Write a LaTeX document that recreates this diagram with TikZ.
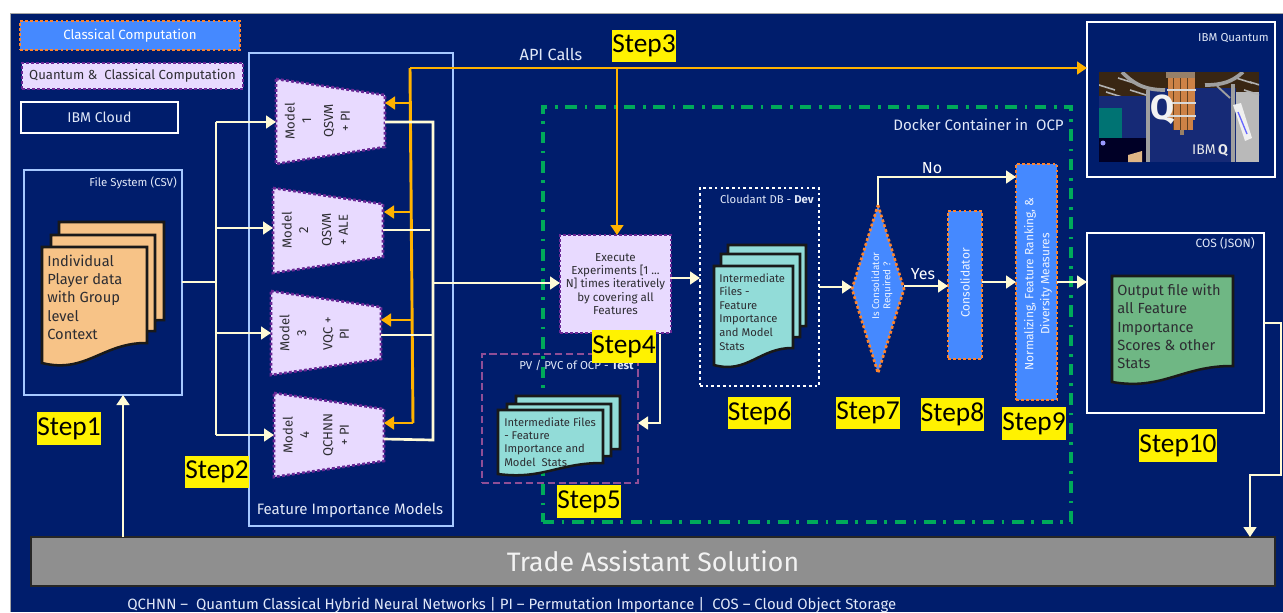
\documentclass[tikz,border=0pt]{standalone}
\usepackage{fontspec}
\setmainfont{Fira Sans}
\newfontfamily\stepfont{Carlito}
\usetikzlibrary{arrows.meta}
\definecolor{navy}{RGB}{0,29,108}
\definecolor{cream}{RGB}{255,251,214}
\definecolor{gold}{RGB}{255,178,0}
\definecolor{lblue}{RGB}{166,200,255}
\definecolor{cblue}{RGB}{69,137,255}
\definecolor{lilac}{RGB}{232,218,255}
\definecolor{dpurple}{RGB}{106,40,150}
\definecolor{dorange}{RGB}{255,131,43}
\definecolor{peach}{RGB}{247,195,135}
\definecolor{teal2}{RGB}{146,220,216}
\definecolor{green2}{RGB}{111,183,132}
\definecolor{dgreen}{RGB}{0,170,90}
\definecolor{mauve}{RGB}{143,78,150}
\definecolor{ink}{RGB}{45,45,50}
\definecolor{paleT}{RGB}{225,232,248}
\definecolor{curtain}{RGB}{22,42,118}
\definecolor{bronze}{RGB}{205,130,70}
\tikzset{
  x=0.75pt,y=-0.75pt,
  flow/.style={draw=cream,line width=2pt,-{Triangle[length=7.5pt,width=9.5pt]}},
  flowplain/.style={draw=cream,line width=2pt},
  api/.style={draw=gold,line width=2.2pt,-{Triangle[length=7.5pt,width=9.5pt]}},
  apiplain/.style={draw=gold,line width=2.2pt},
  boxbase/.style={inner sep=0pt,outer sep=0pt,align=center},
  classical/.style={boxbase,fill=cblue,draw=dorange,line width=2pt,dash pattern=on 2.1pt off 1.7pt,text=white},
  quantum/.style={boxbase,fill=lilac,draw=dpurple,line width=2pt,dash pattern=on 2.1pt off 1.7pt,text=ink},
  cloudbox/.style={boxbase,draw=white,line width=2pt},
  regionbox/.style={boxbase,draw=lblue,line width=2pt},
  greenbox/.style={boxbase,draw=dgreen,line width=2.5pt,dash pattern=on 8.5pt off 5.5pt on 2pt off 6pt},
  whitedot/.style={boxbase,draw=white,line width=2pt,dash pattern=on 2pt off 2.3pt},
  mauvedash/.style={boxbase,draw=mauve,line width=2pt,dash pattern=on 5.5pt off 2.7pt},
  doc/.style={draw=black!90,line width=1.9pt,line join=miter},
  lab/.style={text=paleT,inner sep=0pt},
  modeltext/.style={text=ink,font=\fontsize{9.8}{12.5}\selectfont,rotate=90,align=center,inner sep=0pt},
  trap/.style={fill=lilac,draw=dpurple,line width=2pt,dash pattern=on 2.1pt off 1.7pt},
  stepbox/.style={fill=yellow,text=black,inner sep=0pt,font=\stepfont\fontsize{20.5}{24}\selectfont},
  doctext/.style={text=ink,align=left,anchor=north west,inner sep=0pt},
}
% name, style, x1,y1,x2,y2, content
\newcommand{\rbox}[7]{\node[#2,minimum width={(#5-#3)*0.75pt},minimum height={(#6-#4)*0.75pt}] (#1) at ({(#3+#5)/2},{(#4+#6)/2}) {#7};}
% one sheet: x1 y1 x2 y2(right end) yl(left end) fill
\newcommand{\sheet}[6]{\filldraw[doc,fill=#6] (#1,#2) -- (#3,#2) -- (#3,#4)
  .. controls ({#3-0.42*(#3-#1)},{#4-0.03*(#5-#4)}) and ({#1+0.42*(#3-#1)},{#5+0.55*(#5-#4)}) .. (#1,#5) -- cycle;}
\newcommand{\stepnode}[6]{\node[stepbox,minimum width={(#4-#2)*0.75pt},minimum height={(#5-#3)*0.75pt}] (#1) at ({(#2+#4)/2},{(#3+#5)/2}) {#6};}
\begin{document}
\begin{tikzpicture}
\useasboundingbox (0,0) rectangle (1283,612);
\fill[white] (0,0) rectangle (1283,612);
\fill[navy] (10,13) rectangle (1283,612);
\draw[black!35,line width=0.6pt] (10,612) -- (10,13) -- (1283,13);

% legend
\rbox{legA}{classical,font=\fontsize{10}{12}\selectfont}{20}{21}{240}{50}{Classical Computation}
\rbox{legB}{quantum,font=\fontsize{9.85}{12}\selectfont}{22}{63}{243}{89}{Quantum \& \ Classical Computation}
\rbox{legC}{cloudbox,text=paleT,font=\fontsize{10.6}{12}\selectfont}{21}{102}{178}{133}{IBM Cloud}

% regions
\rbox{fs}{regionbox}{24}{170}{182}{395}{}
\node[lab,anchor=east,font=\fontsize{8.6}{10}\selectfont] (fslab) at (177,183) {File System (CSV)};
\rbox{fim}{regionbox}{249}{53}{453}{526}{}
\node[lab,font=\fontsize{11.3}{13}\selectfont] (fimlab) at (350,510) {Feature Importance Models};

\rbox{docker}{greenbox}{543}{107}{1071}{522}{}
\node[lab,anchor=east,font=\fontsize{11.3}{13}\selectfont] (dockerlab) at (1064,125) {Docker Container in \ OCP};

\rbox{ibmq}{cloudbox}{1087}{22}{1275}{177}{}
\node[lab,anchor=east,font=\fontsize{8.6}{10}\selectfont] (ibmqlab) at (1269,38) {IBM Quantum};
\rbox{cos}{cloudbox}{1087}{233}{1264}{413}{}
\node[lab,anchor=east,font=\fontsize{9}{11}\selectfont] (coslab) at (1255,243) {COS (JSON)};

% photo
\begin{scope}
\clip (1099,72) rectangle (1259,162);
\fill[black!70!brown] (1099,72) rectangle (1259,100);
\fill[gray!55!white] (1232,72) rectangle (1259,162);
\fill[black!70!brown] (1232,72) rectangle (1259,92);
\foreach \a/\b in {1099/85,1106/92,1118/78,1130/90,1236/78,1244/90,1250/82}{\draw[gray!60!white,line width=1.2pt] (\a,\b) -- ++(16,5);}
\fill[curtain] (1099,96) rectangle (1150,162);
\fill[curtain] (1147,88) rectangle (1236,162);
\fill[black!85!blue] (1099,138) rectangle (1147,162);
\fill[teal!50!cyan!60!black] (1099,108) rectangle (1122,138);
\fill[white!60!blue] (1103,143) circle (2.5);
\fill[peach!80!gray] (1128,155) -- (1142,151) -- (1142,162) -- (1128,162) -- cycle;
\draw[gray!75!white,line width=2.8pt] (1122,72) .. controls (1132,82) and (1142,90) .. (1165,90);
\draw[gray!75!white,line width=2.8pt] (1148,90) -- (1148,162);
\draw[gray!75!white,line width=2.8pt] (1243,72) .. controls (1232,82) and (1222,85) .. (1205,85);
\draw[gray!75!white,line width=2.8pt] (1233,84) -- (1233,162);
\draw[gray!75!white,line width=1.4pt] (1217,86) -- (1230,98);
\fill[gray!65!brown] (1166,72) rectangle (1195,78);
\fill[bronze] (1168,78) rectangle (1195,120);
\fill[bronze] (1173,120) rectangle (1193,130);
\foreach \a in {1173,1180,1187}{\draw[brown!50!black,line width=0.7pt] (\a,78) -- (\a,130);}
\foreach \b in {90,103,116}{\draw[gray!30!white,line width=1pt] (1167,\b) -- (1196,\b);}
\fill[gray!60!brown] (1180,130) rectangle (1184,135);
\fill[black!6!white] (1233,105) -- (1241,103) -- (1252,138) -- (1245,141) -- cycle;
\draw[blue!60,line width=1pt] (1238,112) -- (1247,134);
\node[text=white!90!gray,inner sep=0pt,font=\bfseries\fontsize{26}{28}\selectfont] (photoQ) at (1162,110) {Q};
\node[text=white!85!gray,inner sep=0pt,font=\fontsize{10.5}{12}\selectfont] (photoIBM) at (1210,151) {IBM\,\textbf{Q}};
\end{scope}

% gold trunk under models
\coordinate (gTop) at (410,68);
\coordinate (gBot) at (413,423);
\draw[apiplain] (gTop) -- (gBot);

% models
\filldraw[trap] (276,79) coordinate (m1a) -- (385,95) -- (385,147) -- (276,164) -- cycle;
\filldraw[trap] (273,188) coordinate (m2a) -- (383,204) -- (383,257) -- (273,273) -- cycle;
\filldraw[trap] (271,291) coordinate (m3a) -- (381,307) -- (381,359) -- (271,375) -- cycle;
\filldraw[trap] (274,393) coordinate (m4a) -- (384,409) -- (384,461) -- (274,477) -- cycle;
\node[modeltext] (m1t) at (298,121) {Model\\1};
\node[modeltext] (m1u) at (337,121) {QSVM\\+ PI};
\node[modeltext] (m2t) at (295,230) {Model\\2};
\node[modeltext] (m2u) at (335,230) {QSVM\\+ ALE};
\node[modeltext] (m3t) at (293,333) {Model\\3};
\node[modeltext] (m3u) at (336,334) {VQC +\\PI};
\node[modeltext] (m4t) at (296,435) {Model\\4};
\node[modeltext] (m4u) at (336,435) {QCHNN\\+ PI};

% model ports
\coordinate (m1in) at (276,122); \coordinate (m1out) at (385,122); \coordinate (m1api) at (385,103);
\coordinate (m2in) at (273,228); \coordinate (m2out) at (383,230); \coordinate (m2api) at (384,212);
\coordinate (m3in) at (271,333); \coordinate (m3out) at (381,335); \coordinate (m3api) at (381,320);
\coordinate (m4in) at (274,435); \coordinate (m4out) at (384,439); \coordinate (m4api) at (384,423);

% stacks
\sheet{59}{222}{164}{320}{345}{peach}
\sheet{51}{235}{155}{331}{355}{peach}
\sheet{42}{247}{147}{343}{363}{peach}
\node[doctext,font=\fontsize{11}{13.6}\selectfont] (fsdoc) at (47,255) {Individual\\Player data\\with Group\\level\\Context};

% execute
\rbox{exec}{quantum,font=\fontsize{8.7}{9.95}\selectfont}{560}{235}{671}{333}{Execute\\Experiments [1 ...\\N] times iteratively\\by covering all\\Features}

% PV box
\rbox{pv}{mauvedash}{482}{354}{638}{483}{}
\node[lab,anchor=east,font=\fontsize{8.6}{10}\selectfont] (pvlab) at (634,365) {PV / PVC of OCP - \textbf{Test}};
\sheet{516}{396}{620}{449}{462}{teal2}
\sheet{507}{404}{611}{456}{468}{teal2}
\sheet{498}{410}{603}{463}{474}{teal2}
\node[doctext,font=\fontsize{8.4}{10.1}\selectfont] (pvdoc) at (504,417) {Intermediate Files\\- Feature\\Importance and\\Model \ Stats};

% cloudant
\rbox{cdb}{whitedot}{700}{188}{819}{386}{}
\node[lab,anchor=east,font=\fontsize{8.5}{10}\selectfont] (cdblab) at (814,199) {Cloudant DB - \textbf{Dev}};
\sheet{728}{245}{806}{326}{348}{teal2}
\sheet{721}{254}{800}{337}{358}{teal2}
\sheet{714}{266}{793}{348}{365}{teal2}
\node[doctext,font=\fontsize{8.4}{10.2}\selectfont] (cdbdoc) at (719,273) {Intermediate\\Files -\\Feature\\Importance\\and Model\\Stats};

% cos doc
\sheet{1112}{276}{1233}{366}{382}{green2}
\node[doctext,font=\fontsize{11}{13.7}\selectfont] (cosdoc) at (1117,284) {Output file with\\all Feature\\Importance\\Scores \& other\\Stats};

% process
\filldraw[fill=cblue,draw=dorange,line width=2pt,dash pattern=on 2.1pt off 1.7pt] (878,205) coordinate (decT) -- (904,289) coordinate (decR) -- (878,373) -- (852,289) coordinate (decL) -- cycle;
\node[text=white!90!cblue,font=\fontsize{7.4}{8.4}\selectfont,rotate=90,align=center,inner sep=0pt] (dect) at (882,286) {Is Consolidator\\Required ?};
\rbox{cons}{classical}{948}{211}{982}{359}{}
\node[text=white!90!cblue,font=\fontsize{9}{11}\selectfont,rotate=90,inner sep=0pt] (const) at (965,283) {Consolidator};
\rbox{norm}{classical}{1016}{164}{1057}{400}{}
\node[text=white!90!cblue,font=\fontsize{9}{12}\selectfont,rotate=90,align=center,inner sep=0pt] (normt) at (1038,284) {Normalizing, Feature Ranking, \&\\Diversity Measures};

% white flows
\coordinate (bus) at (216,282);
\coordinate (busT) at (216,122);
\coordinate (busB) at (216,435);
\draw[flowplain] (fs.east |- bus) -- (bus);
\draw[flowplain] (busT) -- (busB);
\draw[flow] (busT) -- (m1in);
\draw[flow] (216,228) coordinate (b2) -- (m2in);
\draw[flow] (216,333) coordinate (b3) -- (m3in);
\draw[flow] (busB) -- (m4in);
\coordinate (rb) at (433,283);
\draw[flowplain] (m1out) -- (433,122) -- (433,440) -- (m4out);
\draw[flowplain] (m2out) -- (430,230);
\draw[flowplain] (m3out) -- (433,335);
\draw[flow] (rb) -- (exec.west |- rb);
\draw[flow] (671,278) coordinate (execE) -- (cdb.west |- execE);
\coordinate (execS) at (660,334);
\draw[flow] (execS) -- (660,423) -- (pv.east |- 660,423);
\draw[flow] (cdb.east |- 0,287) -- (decL |- 0,287);
\draw[flow] (decR |- 0,286) -- (cons.west |- 0,286);
\node[text=white,font=\fontsize{12}{14}\selectfont,inner sep=0pt] (yes) at (923,274) {Yes};
\draw[flow] (cons.east |- 0,282) -- (norm.west |- 0,282);
\draw[flow] (norm.east |- 0,282) -- (cos.west |- 0,282);
\coordinate (noT) at (878,177);
\draw[flow] (decT) -- (noT) -- (norm.west |- noT);
\node[text=white,font=\fontsize{12}{14}\selectfont,inner sep=0pt] (no) at (932,168) {No};

% trade
\rbox{trade}{boxbase,fill=black!44,draw=black!85,line width=1.8pt,text=white!90!gray,font=\fontsize{20}{24}\selectfont}{31}{537}{1275}{586}{Trade Assistant Solution}
\draw[flow] (123,537) coordinate (tradeUp) -- (fs.south -| tradeUp);
\draw[flow] (cos.east |- 0,323) -- (1281,323) -- (1281,475) -- (1250,475) -- (trade.north -| 1250,475);

% gold flows
\draw[api] (gTop) -- (ibmq.west |- gTop);
\draw[api] (410,103) -- (m1api);
\draw[api] (411,212) -- (m2api);
\draw[api] (412,320) -- (m3api);
\draw[api] (gBot) -- (m4api);
\draw[api] (617,68) coordinate (gX) -- (exec.north -| gX);
\node[text=paleT,inner sep=0pt,font=\fontsize{12.2}{14}\selectfont] (apilab) at (551,54) {API Calls};

% steps
\stepnode{s1}{38}{412}{100}{445}{Step1}
\stepnode{s2}{186}{456}{248}{488}{Step2}
\stepnode{s3}{613}{30}{675}{62}{Step3}
\stepnode{s4}{593}{330}{655}{363}{Step4}
\stepnode{s5}{558}{485}{620}{518}{Step5}
\stepnode{s6}{728}{397}{791}{429}{Step6}
\stepnode{s7}{837}{397}{899}{429}{Step7}
\stepnode{s8}{921}{398}{984}{431}{Step8}
\stepnode{s9}{1003}{407}{1065}{440}{Step9}
\stepnode{s10}{1140}{429}{1216}{462}{Step10}

% footer
\node[anchor=west,text=paleT,inner sep=0pt,font=\fontsize{11.2}{13}\selectfont] (foot) at (127,605) {QCHNN – \ Quantum Classical Hybrid Neural Networks | PI – Permutation Importance | \ COS – Cloud Object Storage};
\end{tikzpicture}
\end{document}
